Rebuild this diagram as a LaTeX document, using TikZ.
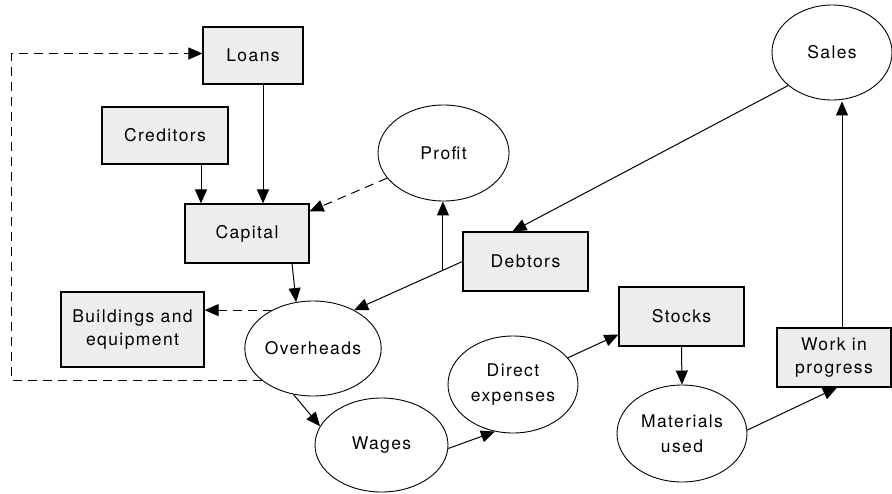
\documentclass[tikz,border=0pt]{standalone}
\usepackage{fontspec}
\setmainfont{TeX Gyre Heros}[LetterSpace=8]
\usetikzlibrary{arrows.meta,calc,shapes.geometric}
\begin{document}
\begin{tikzpicture}[x=1pt,y=-1pt,
  every node/.style={font=\fontsize{17.5}{23}\selectfont},
  box/.style={draw, line width=1.2pt, fill=gray!14, align=center, inner sep=0pt},
  oval/.style={draw, ellipse, line width=0.9pt, align=center, inner sep=0pt,
    font=\fontsize{17.5}{25}\selectfont},
  arr/.style={-{Triangle[length=14pt,width=12pt]}, line width=1pt},
  dsh/.style={arr, dash pattern=on 9pt off 6pt}]
\useasboundingbox (0,0) rectangle (892,493);
% boxes
\node[box, minimum width=100pt, minimum height=57pt] (loans) at (253,55.5) {Loans};
\node[box, minimum width=126pt, minimum height=57pt] (creditors) at (165,135.5) {Creditors};
\node[box, minimum width=124pt, minimum height=59pt] (capital) at (247,233.5) {Capital};
\node[box, minimum width=143pt, minimum height=75pt] (buildings) at (132.5,329.5) {Buildings and\\equipment};
\node[box, minimum width=125pt, minimum height=59pt] (debtors) at (525.5,261.5) {Debtors};
\node[box, minimum width=125pt, minimum height=59pt] (stocks) at (681.5,316.5) {Stocks};
\node[box, minimum width=114pt, minimum height=59pt] (wip) at (834,357.5) {Work in\\progress};
% ellipses
\node[oval, minimum width=131pt, minimum height=96pt] (profit) at (443.5,153) {Profit};
\node[oval, minimum width=132pt, minimum height=95pt] (overheads) at (313,348.5) {Overheads};
\node[oval, minimum width=133pt, minimum height=94pt] (wages) at (381.5,445) {Wages};
\node[oval, minimum width=130pt, minimum height=97pt] (direct) at (513,384.5) {Direct\\expenses};
\node[oval, minimum width=130pt, minimum height=97pt] (materials) at (682,433.5) {Materials\\used};
\node[oval, minimum width=120pt, minimum height=95pt] (sales) at (832,52.5) {Sales};
% connectors
\draw[arr] ($(loans.south)+(10,0)$) -- ($(capital.north)+(16,0)$);
\draw[arr] ($(creditors.south)+(36,0)$) -- ($(capital.north)+(-46,0)$);
\draw[arr] ($(capital.south)+(45,0)$) -- (overheads.110);
\draw[arr] (debtors.west) -- (overheads.43);
\coordinate (j) at ($(debtors.west)!0.18!(overheads.43)$);
\draw[arr] (j) -- (j |- profit.south);
\draw[arr] (sales.217) -- ($(debtors.north)+(-13,0)$);
\draw[dsh] (profit.204) -- ($(capital.north east)+(0,8)$);
\draw[dsh] (overheads.137) -- (overheads.137 -| buildings.east);
\draw[dsh] (overheads.212) -| ($(loans.west)+(-191,-2)$) -- ($(loans.west)+(0,-2)$);
\draw[arr] (overheads.247) -- (wages.163);
\draw[arr] (wages.-3) -- (direct.249);
\draw[arr] (direct.26) -- ($(stocks.south west)+(0,-12)$);
\draw[arr] (stocks.south) -- (materials.north);
\draw[arr] (materials.3) -- ($(wip.south)+(3,0)$);
\draw[arr] ($(wip.north)+(8,0)$) -- ($(sales.south)+(10,1)$);
\end{tikzpicture}
\end{document}
